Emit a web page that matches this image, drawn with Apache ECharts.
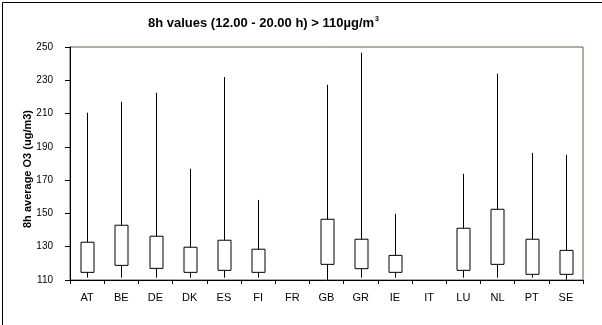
<!DOCTYPE html>
<html>
<head>
<meta charset="utf-8">
<script src="https://cdn.jsdelivr.net/npm/echarts@6/dist/echarts.min.js"></script>
<style>html,body{margin:0;padding:0;background:#fff}#c{width:602px;height:325px}</style>
</head>
<body>
<div id="c"></div>
<script>
var categories = ['AT','BE','DE','DK','ES','FI','FR','GB','GR','IE','IT','LU','NL','PT','SE'];
var lowValues  = [111.4,111.4,111.4,111.4,111.4,111.4,null,110,111.4,111.4,null,111.4,111.4,111.4,110.2];
var q1Values   = [114.6,118.8,117.0,114.6,115.8,114.6,null,119.4,116.8,114.6,null,115.8,119.4,113.4,113.4];
var q3Values   = [132.7,142.9,136.3,129.7,133.9,128.5,null,146.5,134.5,124.8,null,141.1,152.5,134.5,127.8];
var highValues = [210.5,217.1,222.5,176.8,231.9,158.1,null,227.3,246.6,149.7,null,173.8,234.0,186.4,185.2];
var yTicks = [110,130,150,170,190,210,230,250];

var data = [];
for (var i = 0; i < categories.length; i++) {
  if (highValues[i] == null) continue;
  data.push([i, lowValues[i], q1Values[i], q3Values[i], highValues[i]]);
}

var chart = echarts.init(document.getElementById('c'), null, {renderer:'canvas'});
chart.setOption({
  animation: false,
  backgroundColor: '#fff',
  textStyle: {fontFamily: 'Liberation Sans, Arial, sans-serif'},
  graphic: [
    {type:'rect', left:0, top:0, z:100, silent:true,
     shape:{x:0.5,y:0.5,width:601,height:324}, style:{fill:'none', stroke:'#000', lineWidth:1}},
    {type:'text', left:148, top:16, z:100,
     style:{text:'8h values (12.00 - 20.00 h) > 110µg/m{s|3}',
       font:'bold 13px "Liberation Sans", Arial, sans-serif', fill:'#000',
       rich:{s:{fontSize:7, fontWeight:'bold', verticalAlign:'top', padding:[0,0,8,1]}}}},
    {type:'text', x:28, y:169, rotation:Math.PI/2, z:100,
     style:{text:'8h average O3 (ug/m3)', font:'bold 11px "Liberation Sans", Arial, sans-serif', fill:'#000', align:'center', verticalAlign:'middle'}}
  ],
  grid: {left:70, top:47, right:19, bottom:45, show:true, borderColor:'#5a6040', borderWidth:1, backgroundColor:'transparent'},
  xAxis: {
    type:'category', data:categories, boundaryGap:true,
    axisLine:{lineStyle:{color:'#000', width:1}},
    axisTick:{show:true, inside:false, length:4, alignWithLabel:false, lineStyle:{color:'#000'}},
    axisLabel:{color:'#000', fontSize:11, margin:12, interval:0, fontFamily:'Liberation Sans, Arial, sans-serif'},
    splitLine:{show:false}
  },
  yAxis: {
    type:'value', min:110, max:250, interval:20,
    axisLine:{show:true, lineStyle:{color:'#000', width:1}},
    axisTick:{show:true, length:5, lineStyle:{color:'#000'}},
    axisLabel:{color:'#000', fontSize:10, margin:17, fontFamily:'Liberation Sans, Arial, sans-serif',
      formatter:function(v){ return yTicks.indexOf(v) >= 0 ? String(v) : ''; }},
    splitLine:{show:false}
  },
  series: [{
    type:'custom',
    data:data,
    encode:{x:0, y:[1,2,3,4]},
    renderItem:function(params, api){
      var x = api.value(0);
      var pLow = api.coord([x, api.value(1)]);
      var pQ1 = api.coord([x, api.value(2)]);
      var pQ3 = api.coord([x, api.value(3)]);
      var pHigh = api.coord([x, api.value(4)]);
      var w = 13;
      var cx = Math.round(pLow[0]) + 0.5;
      return {type:'group', children:[
        {type:'line', shape:{x1:cx, y1:pLow[1], x2:cx, y2:pHigh[1]}, style:{stroke:'#000', lineWidth:1}},
        {type:'rect', shape:{x:cx - w/2, y:pQ3[1], width:w, height:pQ1[1]-pQ3[1]}, style:{fill:'#fff', stroke:'#000', lineWidth:1}}
      ]};
    }
  }]
});
</script>
</body>
</html>
